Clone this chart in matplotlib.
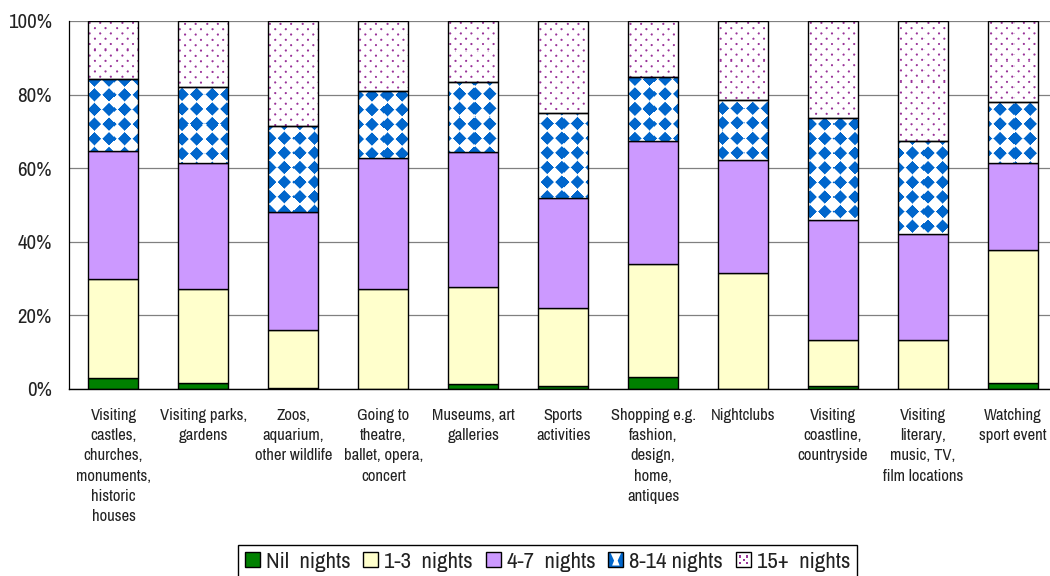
import numpy as np
import matplotlib
matplotlib.use('Agg')
import matplotlib.pyplot as plt
import matplotlib.font_manager as fm
from matplotlib.patches import Rectangle, Polygon, Patch
from matplotlib.legend_handler import HandlerBase
from matplotlib.textpath import TextPath
from matplotlib.font_manager import FontProperties

# ---------------- data ----------------
categories = [
    "Visiting\ncastles,\nchurches,\nmonuments,\nhistoric\nhouses",
    "Visiting parks,\ngardens",
    "Zoos,\naquarium,\nother wildlife",
    "Going to\ntheatre,\nballet, opera,\nconcert",
    "Museums, art\ngalleries",
    "Sports\nactivities",
    "Shopping e.g.\nfashion,\ndesign,\nhome,\nantiques",
    "Nightclubs",
    "Visiting\ncoastline,\ncountryside",
    "Visiting\nliterary,\nmusic, TV,\nfilm locations",
    "Watching\nsport event",
]
nil_nights = [3.1, 1.5, 0.3, 0.1, 1.4, 0.7, 3.2, 0.0, 0.9, 0.1, 1.7]
nights_1_3 = [26.8, 25.8, 15.7, 27.1, 26.3, 21.2, 30.9, 31.5, 12.5, 13.2, 36.1]
nights_4_7 = [34.8, 34.2, 32.0, 35.7, 36.6, 29.9, 33.2, 30.6, 32.5, 28.8, 23.6]
nights_8_14 = [19.5, 20.7, 23.6, 18.1, 19.1, 23.3, 17.5, 16.4, 27.7, 25.2, 16.5]
nights_15_plus = [15.8, 17.8, 28.4, 19.0, 16.6, 24.9, 15.2, 21.5, 26.4, 32.7, 22.1]
series_labels = ["Nil  nights", "1-3  nights", "4-7  nights", "8-14 nights", "15+  nights"]
y_ticks = [0, 20, 40, 60, 80, 100]
y_tick_labels = ["0%", "20%", "40%", "60%", "80%", "100%"]

# ---------------- fonts ----------------
available = {f.name for f in fm.fontManager.ttflist}
FAMILY = 'Liberation Sans'
for cand in ['Liberation Sans Narrow', 'Arial Narrow', 'Archivo Narrow', 'PT Sans Narrow',
             'Roboto Condensed', 'Fira Sans Condensed', 'Encode Sans Condensed']:
    if cand in available:
        FAMILY = cand
        break
plt.rcParams['font.family'] = [FAMILY, 'Liberation Sans', 'DejaVu Sans']


def fit_size(text, target_px, base_pt):
    fp = FontProperties(family=[FAMILY, 'Liberation Sans'], size=base_pt)
    tp = TextPath((0, 0), text, prop=fp)
    w_px = tp.get_extents().width * 100 / 72
    if w_px <= 0:
        return base_pt
    return float(np.clip(base_pt * target_px / w_px, base_pt * 0.75, base_pt * 1.3))


XT_SIZE = fit_size("Visiting parks,", 86, 12.2)
YT_SIZE = fit_size("100%", 42, 14.4)
LEG_SIZE = fit_size("Nil  nights", 82, 15.8)

GREEN = '#008000'
YELLOW = '#FFFFCC'
LILAC = '#CC99FF'
BLUE = np.array([0x00, 0x66, 0xCC]) / 255.0
PURPLE = np.array([0x99, 0x33, 0x99]) / 255.0
WHITE = np.array([1.0, 1.0, 1.0])

W, H = 1050, 576
fig = plt.figure(figsize=(W / 100, H / 100), dpi=100)
ax = fig.add_axes([68.5 / W, (H - 389) / H, 989.5 / W, 368 / H])
n = len(categories)
x = np.arange(n)
bw = 0.556
ax.set_xlim(-0.5, n - 0.5)
ax.set_ylim(0, 100)
ax.set_autoscale_on(False)


def pattern_rgb(XX, YY, kind):
    if kind == 'diamond':
        p = 14.6
        u = np.mod(XX, p) - p / 2
        v = np.mod(YY, p) - p / 2
        d = np.abs(u) + np.abs(v)
        a = np.clip(0.45 * p + 0.6 - d, 0, 1)
        col = BLUE
    else:
        p = 5.3
        row = np.floor(YY / p)
        Xs = XX + np.mod(row, 2) * p
        u = np.mod(Xs, 2 * p) - p
        v = np.mod(YY, p) - p / 2
        d = np.hypot(u, v)
        a = np.clip(1.55 - d, 0, 1)
        col = PURPLE
    a = a[..., None]
    return col * a + WHITE * (1 - a)


def draw_pattern(rect, kind):
    x0d, y0d = rect.get_x(), rect.get_y()
    x1d, y1d = x0d + rect.get_width(), y0d + rect.get_height()
    (X0, Y0), (X1, Y1) = ax.transData.transform([(x0d, y0d), (x1d, y1d)])
    nw = max(int(round(X1 - X0)), 1)
    nh = max(int(round(Y1 - Y0)), 1)
    xs = X0 + (np.arange(nw) + 0.5) * (X1 - X0) / nw
    ys = Y1 - (np.arange(nh) + 0.5) * (Y1 - Y0) / nh
    XX, YY = np.meshgrid(xs, H - ys)
    img = pattern_rgb(XX, YY, kind)
    ax.imshow(img, extent=(x0d, x1d, y0d, y1d), origin='upper', aspect='auto',
              interpolation='nearest', zorder=3)


series = [nil_nights, nights_1_3, nights_4_7, nights_8_14, nights_15_plus]
colors = [GREEN, YELLOW, LILAC, 'white', 'white']
patterns = [None, None, None, 'diamond', 'dots']

bottom = np.zeros(n)
for vals, col, pat in zip(series, colors, patterns):
    vals = np.asarray(vals, float)
    if pat is None:
        ax.bar(x, vals, bw, bottom=bottom, color=col, edgecolor='black',
               linewidth=1.0, zorder=2)
    else:
        bars = ax.bar(x, vals, bw, bottom=bottom, color='white', edgecolor='none', zorder=2)
        for rect in bars:
            draw_pattern(rect, pat)
        ax.bar(x, vals, bw, bottom=bottom, fill=False, edgecolor='black',
               linewidth=1.0, zorder=4)
    bottom += vals

ax.set_xlim(-0.5, n - 0.5)
ax.set_ylim(0, 100)

ax.set_yticks(y_ticks)
ax.set_yticklabels(y_tick_labels)
ax.set_xticks(x)
ax.set_xticklabels(categories, linespacing=1.44)
ax.yaxis.grid(True, color='#808080', linewidth=0.9)
ax.set_axisbelow(True)
for s in ['top', 'right']:
    ax.spines[s].set_visible(False)
ax.spines['left'].set_color('black')
ax.spines['left'].set_linewidth(0.9)
ax.spines['bottom'].set_color('black')
ax.spines['bottom'].set_linewidth(1.0)
ax.spines['bottom'].set_zorder(5)
ax.tick_params(axis='both', length=0, colors='#222222')
ax.tick_params(axis='y', pad=12, labelsize=YT_SIZE)
ax.tick_params(axis='x', pad=13.5, labelsize=XT_SIZE)


# ---------------- legend ----------------
class SwatchHandler(HandlerBase):
    def __init__(self, kind, color=None):
        super().__init__()
        self.kind = kind
        self.color = color

    def create_artists(self, legend, orig_handle, xdescent, ydescent,
                       width, height, fontsize, trans):
        s = min(width, height)
        x0 = -xdescent + (width - s) / 2
        y0 = -ydescent + (height - s) / 2
        arts = []
        if self.kind == 'diamond':
            arts.append(Rectangle((x0, y0), s, s, facecolor=BLUE, edgecolor='none', transform=trans))
            pts = [(0.15, 0.95), (0.85, 0.95), (0.62, 0.45), (0.75, 0.12),
                   (0.25, 0.12), (0.38, 0.45)]
            arts.append(Polygon([(x0 + px * s, y0 + py * s) for px, py in pts],
                                closed=True, facecolor='white', edgecolor='none', transform=trans))
        elif self.kind == 'dots':
            arts.append(Rectangle((x0, y0), s, s, facecolor='white', edgecolor='none', transform=trans))
            for px, py in [(0.28, 0.72), (0.72, 0.72), (0.5, 0.5), (0.28, 0.28), (0.72, 0.28)]:
                d = 0.15 * s
                arts.append(Rectangle((x0 + px * s - d / 2, y0 + py * s - d / 2), d, d,
                                      facecolor=PURPLE, edgecolor='none', transform=trans))
        else:
            arts.append(Rectangle((x0, y0), s, s, facecolor=self.color, edgecolor='none', transform=trans))
        arts.append(Rectangle((x0, y0), s, s, fill=False, edgecolor='black', linewidth=1.0, transform=trans))
        return arts


handles = [Patch(facecolor=c) for c in colors]
hmap = {h: SwatchHandler(pat, c) for h, c, pat in zip(handles, colors, patterns)}

leg_px = LEG_SIZE * 100 / 72
leg = fig.legend(handles, series_labels, loc='upper center',
                 bbox_to_anchor=(547.5 / W, (H - 545) / H), ncol=5,
                 frameon=True, fancybox=False, edgecolor='black', framealpha=1,
                 fontsize=LEG_SIZE, handlelength=15 / leg_px, handleheight=15 / leg_px,
                 handletextpad=6 / leg_px, columnspacing=13 / leg_px, borderpad=0.3,
                 borderaxespad=0, handler_map=hmap)
leg.get_frame().set_linewidth(1.0)
for t in leg.get_texts():
    t.set_color('#222222')

fig.savefig('out.png', dpi=100)
